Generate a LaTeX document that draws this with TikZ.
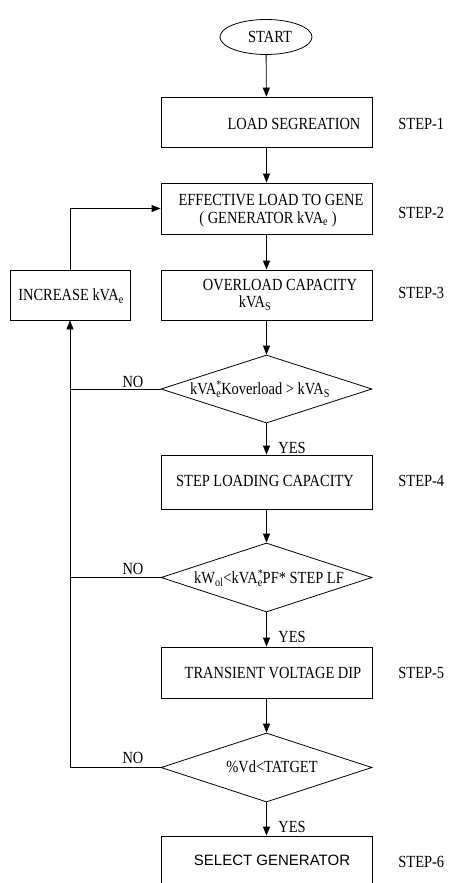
\documentclass[tikz,border=0pt]{standalone}
\usepackage{fontspec}
\setmainfont{Liberation Serif}[FakeStretch=0.85]
\newfontfamily\arialfont{Liberation Sans}
\usetikzlibrary{shapes.geometric,arrows.meta}
\newcommand{\starsub}[1]{\makebox[0pt][l]{\textsuperscript{*}}\textsubscript{#1}}
\begin{document}
\begin{tikzpicture}[x=1pt,y=-1pt,
  line width=0.8pt,
  arr/.style={-{Triangle[length=9pt,width=7pt]}},
  boxnode/.style={draw,rectangle,minimum width=211pt,inner sep=0pt},
  decnode/.style={draw,diamond,minimum width=211pt,inner sep=0pt,shape aspect=3.1},
  ellnode/.style={draw,ellipse,minimum width=92pt,minimum height=35pt,inner sep=0pt},
  txt/.style={inner sep=0pt,font=\fontsize{17}{19}\selectfont},
  steplbl/.style={txt,anchor=west},
]
\useasboundingbox (0,0) rectangle (448,883);
\clip (0,0) rectangle (448,883);
% shapes
\node[ellnode] (start) at (266,37) {};
\node[boxnode,minimum height=50pt] (b1) at (266.5,122) {};
\node[boxnode,minimum height=51pt] (b2) at (266.5,208.5) {};
\node[boxnode,minimum height=50pt] (b3) at (266.5,295) {};
\node[draw,rectangle,minimum width=120pt,minimum height=50pt,inner sep=0pt] (inc) at (70,295) {};
\node[decnode,minimum height=68pt] (d1) at (266.5,389) {};
\node[boxnode,minimum height=54pt] (b4) at (266.5,482) {};
\node[decnode,minimum height=69pt] (d2) at (266.5,577.5) {};
\node[boxnode,minimum height=51pt] (b5) at (266.5,672.5) {};
\node[decnode,minimum height=69pt] (d3) at (266.5,767.5) {};
\node[boxnode,minimum height=56pt] (b6) at (266.5,864) {};
% texts
\node[txt] (tstart) at (270,37) {START};
\node[txt] (t1) at (294,124) {LOAD SEGREATION};
\node[txt] (t2a) at (271,200) {EFFECTIVE LOAD TO GENE};
\node[txt] (t2b) at (268,219) {( GENERATOR kVA\textsubscript{e} )};
\node[txt] (t3a) at (280,285) {OVERLOAD CAPACITY};
\node[txt] (t3b) at (255,303) {kVA\textsubscript{S}};
\node[txt] (tinc) at (71,296) {INCREASE kVA\textsubscript{e}};
\node[txt] (td1) at (260,389) {kVA\starsub{e}Koverload > kVA\textsubscript{S}};
\node[txt] (t4) at (265,481) {STEP LOADING CAPACITY};
\node[txt] (td2) at (269,578) {kW\textsubscript{ol}<kVA\starsub{e}PF* STEP LF};
\node[txt] (t5) at (273,673) {TRANSIENT VOLTAGE DIP};
\node[txt] (td3) at (272,767) {\%Vd<TATGET};
\node[txt,font=\arialfont\fontsize{15}{17}\selectfont] (t6) at (272,860) {SELECT GENERATOR};
% step labels
\node[steplbl] (s1) at (398,124) {STEP-1};
\node[steplbl] (s2) at (398,213) {STEP-2};
\node[steplbl] (s3) at (398,293) {STEP-3};
\node[steplbl] (s4) at (398,481) {STEP-4};
\node[steplbl] (s5) at (398,673) {STEP-5};
\node[steplbl] (s6) at (398,862) {STEP-6};
% connectors
\draw[arr] (start) -- (b1);
\draw[arr] (b1) -- (b2);
\draw[arr] (b2) -- (b3);
\draw[arr] (b3) -- (d1);
\draw[arr] (d1) -- (b4);
\draw[arr] (b4) -- (d2);
\draw[arr] (d2) -- (b5);
\draw[arr] (b5) -- (d3);
\draw[arr] (d3) -- (b6);
\draw[arr] (inc.north) |- (b2.west);
\draw (d1.west) -- (d1.west -| inc.south);
\draw (d2.west) -- (d2.west -| inc.south);
\draw[arr] (d3.west) -| (inc.south);
% yes / no
\node[txt,anchor=west] (y1) at (278,448) {YES};
\node[txt,anchor=west] (y2) at (278,637) {YES};
\node[txt,anchor=west] (y3) at (278,827) {YES};
\node[txt] (n1) at (133,382) {NO};
\node[txt] (n2) at (133,569) {NO};
\node[txt] (n3) at (133,758) {NO};
\end{tikzpicture}
\end{document}
